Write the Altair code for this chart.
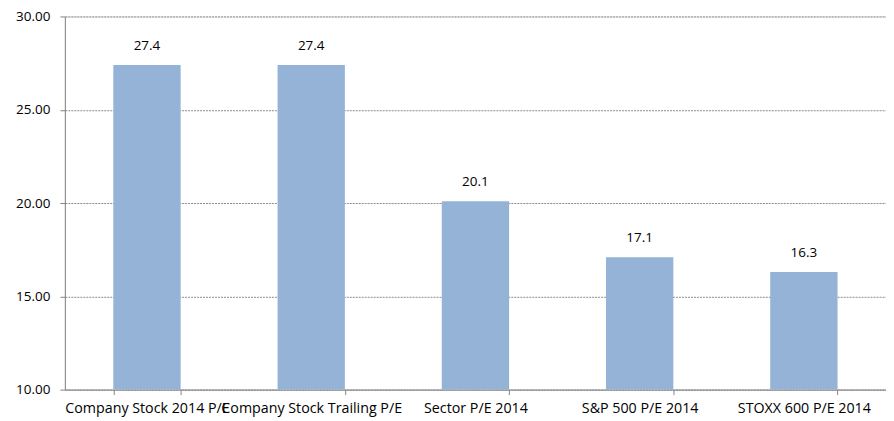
import altair as alt
import pandas as pd

categories = ["Company Stock  2014 P/E", "Company Stock  Trailing  P/E", "Sector P/E 2014",
              "S&P 500 P/E 2014", "STOXX 600 P/E 2014"]
values = [27.4, 27.4, 20.1, 17.1, 16.3]
labels = ["27.4", "27.4", "20.1", "17.1", "16.3"]
y_ticks = [10, 15, 20, 25, 30]
baseline = 10

df = pd.DataFrame({"cat": categories, "val": values, "lab": labels})

FONT = "Open Sans"

x = alt.X("cat:N", sort=categories, title=None,
          scale=alt.Scale(paddingInner=0.59, paddingOuter=0.295),
          axis=alt.Axis(labelAngle=0, labelFont=FONT, labelFontSize=14.3, labelColor="#000000",
                        domainColor="#868686", ticks=True, tickColor="#868686", tickSize=5,
                        tickWidth=1, tickBand="extent", labelPadding=7, labelOverlap=False,
                        labelLimit=0, grid=False))

y = alt.Y("val:Q", title=None,
          scale=alt.Scale(domain=[10, 30], zero=False, nice=False),
          axis=alt.Axis(values=y_ticks, format=".2f", labelFont=FONT, labelFontSize=13.5,
                        labelColor="#000000", domainColor="#868686", tickColor="#868686",
                        tickSize=5, labelPadding=10, grid=True, gridColor="#8c8c8c",
                        gridDash=[2, 1], gridWidth=1))

bars = alt.Chart(df).mark_bar(color="#95B3D7").encode(x=x, y=y, y2=alt.datum(baseline))
text = alt.Chart(df).mark_text(baseline="bottom", dy=-12, font=FONT, fontSize=13.5,
                               color="#000000").encode(
    x=alt.X("cat:N", sort=categories),
    y=alt.Y("val:Q"),
    text="lab:N")

chart = (bars + text).properties(
    width=823, height=374,
    autosize=alt.AutoSizeParams(type="none"),
    padding={"left": 57, "top": 8, "right": 0, "bottom": 30},
).configure_view(stroke=None).configure(background="white")

chart.save("out.html", embed_options={"renderer": "svg", "actions": False})
